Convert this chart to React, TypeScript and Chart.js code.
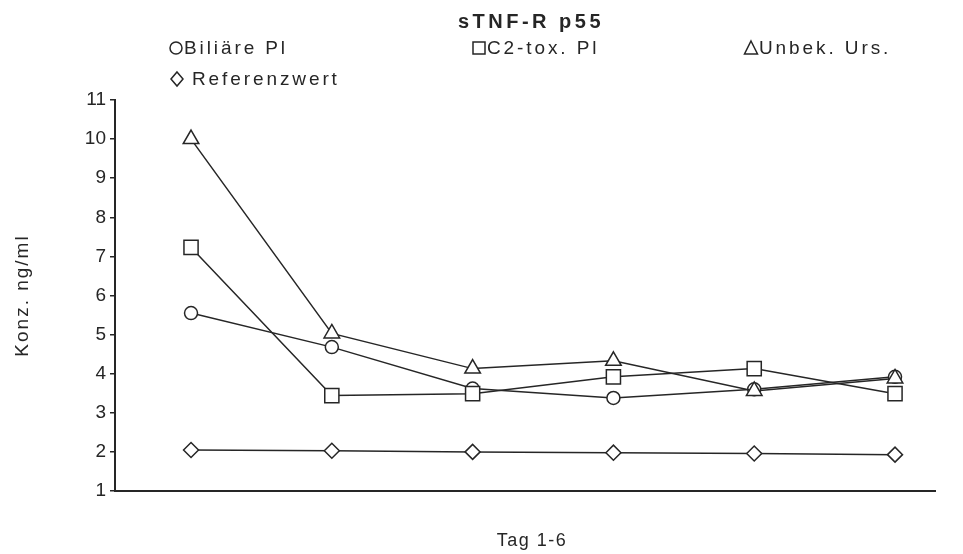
import React, { useEffect, useRef } from 'react';
import { Chart, registerables } from 'chart.js';

Chart.register(...registerables);

const days = [1, 2, 3, 4, 5, 6];
const biliaere = [5.55, 4.68, 3.62, 3.38, 3.6, 3.92];
const c2tox = [7.23, 3.44, 3.49, 3.92, 4.13, 3.49];
const unbekannt = [10.0, 5.03, 4.13, 4.33, 3.56, 3.88];
const referenz = [2.05, 2.03, 2.0, 1.98, 1.96, 1.93];
const seriesLabels = ['Biliäre Pl', 'C2-tox. Pl', 'Unbek. Urs.', 'Referenzwert'];
const seriesStyles = ['circle', 'rect', 'triangle', 'rectRot'];
const chartTitle = 'sTNF-R p55';
const yTitle = 'Konz. ng/ml';
const xTitle = 'Tag 1-6';

const INK = '#262626';
const FONT = '"Liberation Sans", Arial, sans-serif';

function drawSymbol(ctx: CanvasRenderingContext2D, style: string, x: number, y: number) {
  ctx.save();
  ctx.strokeStyle = INK;
  ctx.lineWidth = 1.5;
  ctx.beginPath();
  if (style === 'circle') {
    ctx.arc(x, y, 6, 0, Math.PI * 2);
  } else if (style === 'rect') {
    ctx.rect(x - 6, y - 6, 12, 12);
  } else if (style === 'triangle') {
    ctx.moveTo(x, y - 7);
    ctx.lineTo(x + 6.5, y + 6);
    ctx.lineTo(x - 6.5, y + 6);
    ctx.closePath();
  } else {
    ctx.moveTo(x, y - 7);
    ctx.lineTo(x + 6, y);
    ctx.lineTo(x, y + 7);
    ctx.lineTo(x - 6, y);
    ctx.closePath();
  }
  ctx.stroke();
  ctx.restore();
}

const decorPlugin = {
  id: 'decor',
  afterDraw(chart: any) {
    const ctx: CanvasRenderingContext2D = chart.ctx;
    const area = chart.chartArea;
    ctx.save();
    ctx.fillStyle = INK;
    // title
    (ctx as any).letterSpacing = '3.5px';
    ctx.font = `bold 20px ${FONT}`;
    ctx.textAlign = 'center';
    ctx.textBaseline = 'middle';
    ctx.fillText(chartTitle, (area.left + area.right) / 2 + 6, 22);
    // legend
    (ctx as any).letterSpacing = '2.9px';
    ctx.font = `19px ${FONT}`;
    ctx.textAlign = 'left';
    const legendPos = [
      [176, 48],
      [479, 48],
      [751, 48],
      [177, 79],
    ];
    seriesLabels.forEach((lab, i) => {
      const [lx, ly] = legendPos[i];
      drawSymbol(ctx, seriesStyles[i], lx, ly);
      ctx.fillText(lab, lx + (i === 3 ? 15 : 8), ly + 1);
    });
    // axis titles
    ctx.textAlign = 'center';
    (ctx as any).letterSpacing = '1.5px';
    ctx.font = `18px ${FONT}`;
    ctx.fillText(xTitle, (area.left + area.right) / 2 + 7, 541);
    ctx.save();
    ctx.translate(23, (area.top + area.bottom) / 2);
    ctx.rotate(-Math.PI / 2);
    (ctx as any).letterSpacing = '2px';
    ctx.font = `19px ${FONT}`;
    ctx.fillText(yTitle, 0, 0);
    ctx.restore();
    ctx.restore();
  },
};

function makeDataset(label: string, values: number[], style: string, radius: number) {
  return {
    label,
    data: days.map((d, i) => ({ x: d, y: values[i] })),
    borderColor: INK,
    borderWidth: 1.5,
    pointStyle: style,
    pointRadius: radius,
    pointHoverRadius: radius,
    pointBackgroundColor: '#ffffff',
    pointBorderColor: INK,
    pointBorderWidth: 1.5,
    tension: 0,
    fill: false,
  };
}

export default function App() {
  const ref = useRef<HTMLCanvasElement | null>(null);
  useEffect(() => {
    document.body.style.margin = '0';
    const canvas = ref.current!;
    const chart = new Chart(canvas, {
      type: 'line',
      data: {
        // first dataset is drawn on top
        datasets: [
          makeDataset(seriesLabels[2], unbekannt, seriesStyles[2], 9),
          makeDataset(seriesLabels[1], c2tox, seriesStyles[1], 10),
          makeDataset(seriesLabels[0], biliaere, seriesStyles[0], 6.5),
          makeDataset(seriesLabels[3], referenz, seriesStyles[3], 7.5),
        ],
      },
      options: {
        responsive: false,
        animation: false,
        devicePixelRatio: 1,
        layout: { padding: { top: 100, right: 28, bottom: 63, left: 0 } },
        plugins: {
          legend: { display: false },
          title: { display: false },
          tooltip: { enabled: false },
        },
        scales: {
          x: {
            type: 'linear',
            min: 0.46,
            max: 6.284,
            ticks: { display: false },
            grid: { display: false },
            border: { display: true, color: INK, width: 2 },
            afterFit: (s: any) => {
              s.height = 0;
            },
          },
          y: {
            type: 'linear',
            min: 1,
            max: 11,
            ticks: {
              stepSize: 1,
              color: INK,
              padding: 4,
              font: { family: FONT, size: 19 },
            },
            grid: { drawOnChartArea: false, tickLength: 5, color: INK, lineWidth: 1.5 },
            border: { display: true, color: INK, width: 2 },
            afterFit: (s: any) => {
              s.width = 115;
            },
          },
        },
      },
      plugins: [decorPlugin],
    } as any);
    return () => chart.destroy();
  }, []);
  return (
    <div style={{ width: 963, height: 554, background: '#fff' }}>
      <canvas ref={ref} width={963} height={554} style={{ display: 'block' }} />
    </div>
  );
}
